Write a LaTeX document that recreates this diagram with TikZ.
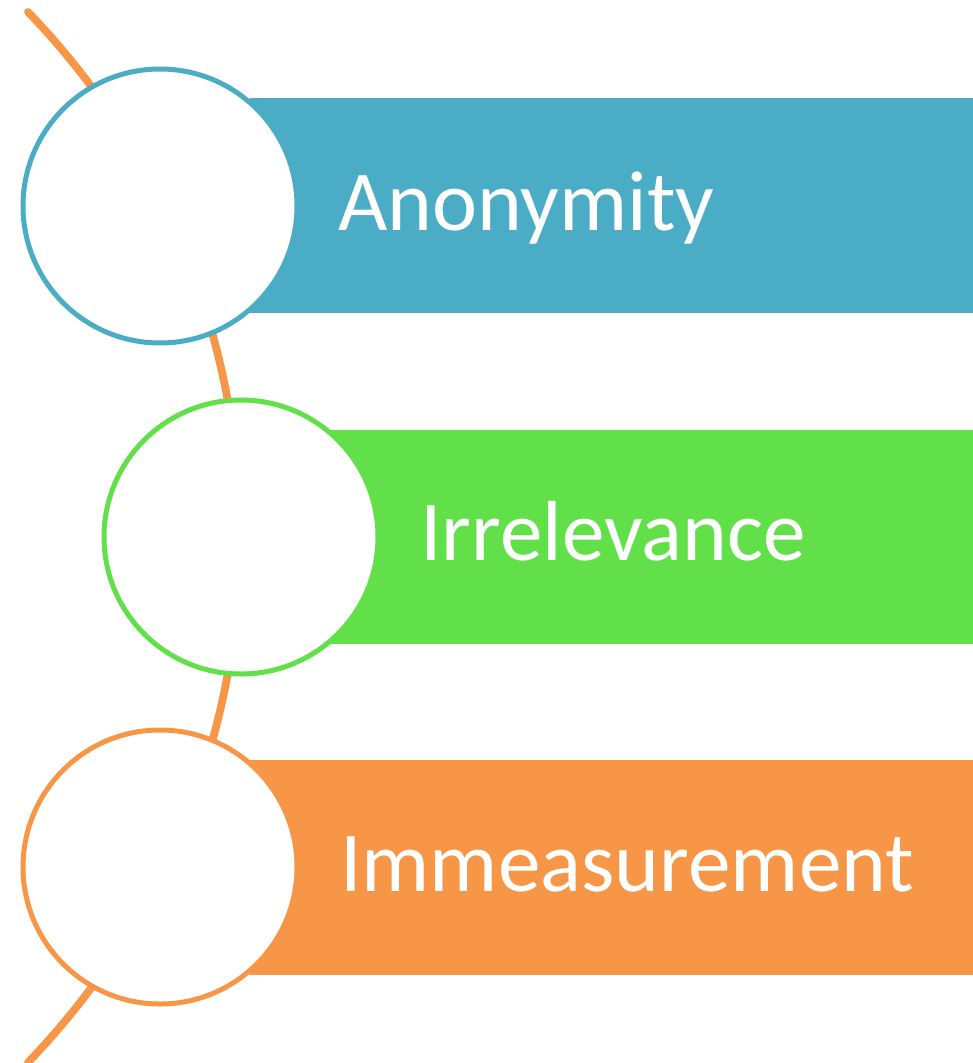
\documentclass[tikz,border=0pt]{standalone}
\usepackage{fontspec}
\setmainfont{Carlito}
\usepackage{tikz}

\definecolor{barblue}{HTML}{4BACC6}
\definecolor{bargreen}{HTML}{62E04A}
\definecolor{barorange}{HTML}{F79646}

\begin{document}
\begin{tikzpicture}[x=0.75pt,y=-0.75pt,
  ring/.style={circle,draw,fill=white,line width=3.75pt,minimum size=205.5pt,inner sep=0pt},
  label/.style={anchor=base west,text=white,inner sep=0pt,font=\fontsize{64}{77}\selectfont}]
\useasboundingbox (0,0) rectangle (973,1063);
% the spine behind the rings
\coordinate (spinetop) at (28,12);
\draw[barorange,line width=5.8pt,line cap=round] (spinetop) arc[start angle=-44,end angle=44,radius=756];
% bars
\fill[barblue] (250,98) rectangle (973,313);
\fill[bargreen] (330,430) rectangle (973,644);
\fill[barorange] (250,760) rectangle (973,975);
% rings
\node[ring,draw=barblue] (r1) at (160,206) {};
\node[ring,draw=bargreen] (r2) at (241,537) {};
\node[ring,draw=barorange] (r3) at (160,867) {};
% texts
\node[label] (t1) at (338,230) {Anonymity};
\node[label] (t2) at (420,560) {Irrelevance};
\node[label] (t3) at (340,891) {Immeasurement};
\end{tikzpicture}
\end{document}
